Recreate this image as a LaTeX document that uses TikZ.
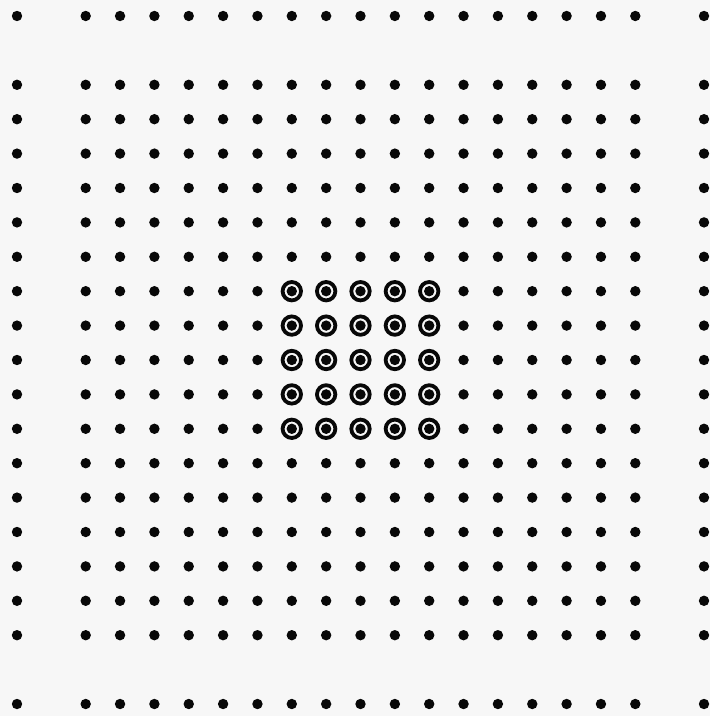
\documentclass[tikz,border=0pt]{standalone}
\definecolor{paper}{RGB}{247,247,247}
\definecolor{ink}{RGB}{8,8,8}
\begin{document}
\begin{tikzpicture}[x=0.5pt,y=-0.5pt,
  dotmark/.style={fill=ink},
  ringmark/.style={draw=ink,line width=1.9pt}]
\useasboundingbox (0,0) rectangle (710,716);
\fill[paper] (0,0) rectangle (710,716);
\foreach \i in {0,2,3,...,18,20}{
  \foreach \j in {0,2,3,...,18,20}{
    \fill[dotmark] ({17+34.35*\i},{16+34.4*\j}) circle[radius=2.6pt];
  }
}
\foreach \i in {8,...,12}{
  \foreach \j in {8,...,12}{
    \draw[ringmark] ({17+34.35*\i},{16+34.4*\j}) circle[radius=4.6pt];
  }
}
\end{tikzpicture}
\end{document}
